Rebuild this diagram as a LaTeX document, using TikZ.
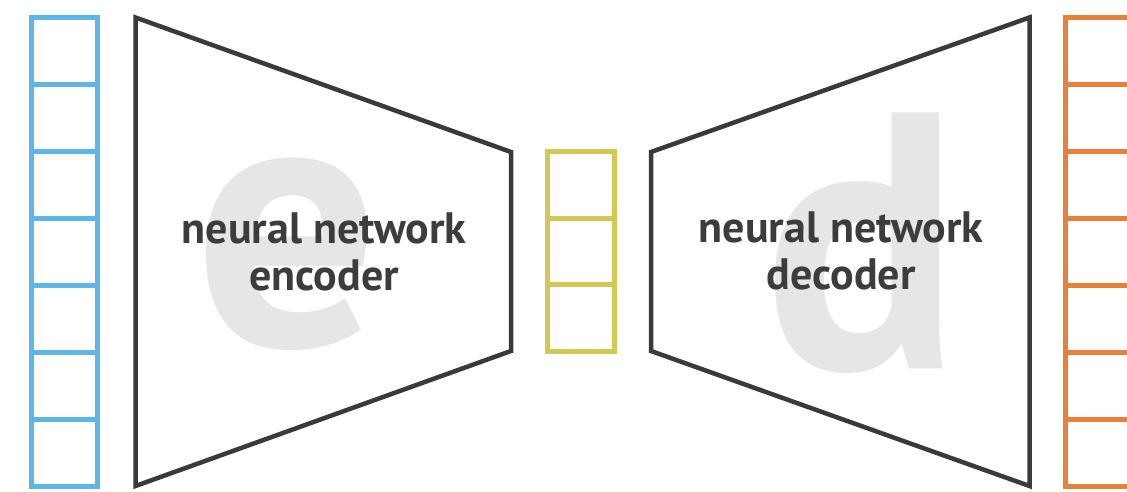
\documentclass[tikz,border=0pt]{standalone}
\usepackage{fontspec}
\setmainfont{PT Sans}
\definecolor{cellblue}{HTML}{5DB6E6}
\definecolor{cellyellow}{HTML}{D3C853}
\definecolor{cellorange}{HTML}{E8803C}
\definecolor{netline}{HTML}{3A3A3A}
\definecolor{nettext}{HTML}{3C3C3C}
\definecolor{bigletter}{HTML}{E6E6E6}
\tikzset{
  cell/.style={draw, line width=5pt, minimum width=66pt, minimum height=67pt,
    inner sep=0pt, outer sep=0pt},
  bluecell/.style={cell, draw=cellblue},
  orangecell/.style={cell, draw=cellorange},
  yellowcell/.style={cell, draw=cellyellow, minimum width=66.5pt, minimum height=66.5pt},
  net/.style={draw=netline, line width=4.5pt, line join=miter},
  netlabel/.style={font=\fontsize{44}{47}\selectfont\bfseries, text=nettext, align=center},
  watermark/.style={font=\fontsize{365}{365}\selectfont\bfseries, text=bigletter, inner sep=0pt, anchor=base}
}
\begin{document}
\begin{tikzpicture}[x=1pt,y=-1pt]
\useasboundingbox (0,0) rectangle (1127,492);
\clip (0,0) rectangle (1127,492);

% large background letters
\node[watermark] (bige) at (287,345) {e};
\node[watermark] (bigd) at (862,368) {d};

% input vector
\foreach \i/\y in {1/51,2/118,3/185,4/252,5/319,6/386,7/453}
  \node[bluecell] (in\i) at (64.5,\y) {};

% latent code
\foreach \i/\y in {1/185,2/251.5,3/318}
  \node[yellowcell] (z\i) at (580.75,\y) {};

% output vector
\foreach \i/\y in {1/51,2/118,3/185,4/252,5/319,6/386,7/453}
  \node[orangecell] (out\i) at (1098.5,\y) {};

% encoder and decoder trapezoids
\coordinate (e1) at (135.5,17.5);
\coordinate (e2) at (511,152);
\coordinate (e3) at (511,351);
\coordinate (e4) at (135.5,486);
\path[net] (e1) -- (e2) -- (e3) -- (e4) -- cycle;

\coordinate (d1) at (651,152);
\coordinate (d2) at (1029.5,17.5);
\coordinate (d3) at (1029.5,486);
\coordinate (d4) at (651,351);
\path[net] (d1) -- (d2) -- (d3) -- (d4) -- cycle;

% labels
\node[netlabel] (enclabel) at (324,252) {neural network\\encoder};
\node[netlabel] (declabel) at (841,251) {neural network\\decoder};
\end{tikzpicture}
\end{document}
